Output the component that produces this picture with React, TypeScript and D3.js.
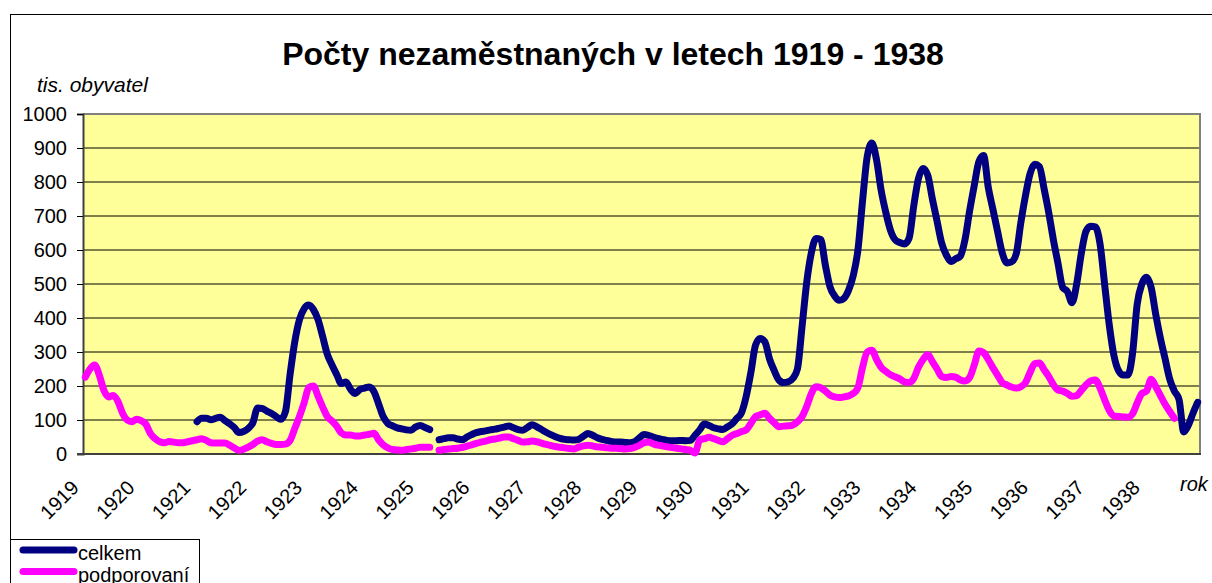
import React, { useEffect, useRef } from 'react';
import * as d3 from 'd3';

// tick labels on the category axis (one per year, monthly data)
const years = [1919, 1920, 1921, 1922, 1923, 1924, 1925, 1926, 1927, 1928, 1929, 1930, 1931, 1932, 1933, 1934, 1935, 1936, 1937, 1938];

const yTicks = [0, 100, 200, 300, 400, 500, 600, 700, 800, 900, 1000];

// tis. obyvatel, monthly from 1919-01 (null = no data)
const celkem: (number | null)[] = [
  null, null, null, null, null, null, null, null, null, null, null, null,
  null, null, null, null, null, null, null, null, null, null, null, null,
  95, 105, 105, 101, 105, 108, 98, 89, 78, 63, 66, 75,
  92, 135, 134, 126, 119, 110, 102, 125, 235, 330, 395, 427,
  438, 425, 395, 345, 293, 262, 234, 207, 212, 190, 178, 190,
  194, 197, 184, 148, 110, 90, 83, 77, 74, 71, 70, 80,
  84, 78, 72, null, 42, 45, 48, 48, 44, 42, 50, 57,
  63, 66, 68, 71, 73, 76, 79, 82, 77, 72, 70, 78,
  86, 80, 72, 64, 57, 51, 46, 43, 42, 41, 43, 52,
  60, 55, 48, 43, 40, 37, 35, 35, 34, 33, 36, 47,
  57, 55, 50, 46, 43, 40, 39, 39, 40, 39, 40, 55,
  71, 88, 84, 77, 74, 72, 80, 89, 105, 122, 170, 240,
  320, 340, 330, 280, 246, 218, 210, 212, 222, 250, 375, 505,
  592, 634, 631, 556, 492, 465, 452, 458, 482, 525, 600, 745,
  875, 915, 865, 775, 710, 658, 630, 622, 618, 635, 730, 810,
  840, 820, 750, 685, 620, 585, 566, 574, 582, 630, 715, 790,
  860, 878, 785, 720, 655, 592, 562, 565, 588, 680, 760, 825,
  852, 845, 780, 710, 630, 560, 490, 478, 445, 500, 590, 655,
  670, 668, 620, 500, 380, 290, 245, 232, 232, 295, 440, 500,
  520, 490, 410, 340, 280, 220, 185, 160, 65, 85, 120, 152,
];

const podporovani: (number | null)[] = [
  226, 250, 262, 232, 187, 168, 172, 155, 120, 100, 95, 102,
  98, 88, 60, 45, 36, 33, 37, 35, 33, 33, 36, 39,
  42, 45, 40, 33, 32, 32, 32, 26, 18, 11, 14, 20,
  28, 38, 42, 36, 31, 28, 28, 29, 40, 75, 110, 150,
  195, 200, 170, 138, 110, 97, 82, 62, 56, 56, 53, 53,
  56, 58, 61, 42, 27, 18, 13, 12, 11, 13, 15, 17,
  20, 20, 20, null, 11, 13, 15, 16, 17, 19, 23, 27,
  31, 35, 38, 42, 44, 47, 50, 50, 45, 40, 35, 36,
  38, 36, 32, 28, 25, 22, 20, 18, 16, 15, 20, 24,
  26, 24, 21, 20, 18, 17, 17, 16, 15, 16, 19, 25,
  33, 35, 30, 26, 24, 21, 19, 17, 15, 13, 11, 3,
  41, 45, 49, 45, 40, 36, 45, 55, 60, 66, 71, 90,
  110, 115, 120, 105, 92, 80, 82, 83, 85, 95, 110, 140,
  178, 198, 195, 185, 173, 168, 166, 168, 171, 178, 195, 255,
  300, 305, 278, 255, 243, 233, 227, 221, 212, 210, 222, 255,
  278, 293, 272, 250, 228, 225, 228, 226, 218, 215, 225, 262,
  303, 298, 278, 254, 232, 210, 203, 197, 194, 198, 210, 240,
  266, 268, 248, 228, 204, 188, 185, 178, 170, 172, 187, 203,
  215, 218, 195, 160, 128, 112, 110, 109, 108, 118, 150, 178,
  185, 220, 198, 172, 146, 125, 105, null, null, null, null, null,
];

const seriesNames = ['celkem', 'podporovaní'];
const seriesColors = ['#000080', '#FF00FF'];

export default function App() {
  const ref = useRef<SVGSVGElement>(null);

  useEffect(() => {
    const svg = d3.select(ref.current);
    svg.selectAll('*').remove();

    const font = 'Liberation Sans, Arial, sans-serif';
    const left = 83, right = 1200, top = 114, bottom = 454;
    const n = celkem.length;

    const x = d3.scaleLinear().domain([0, n]).range([left, right]);
    const y = d3.scaleLinear().domain([0, 1000]).range([bottom, top]);

    // outer chart border
    svg.append('rect')
      .attr('x', 10.5).attr('y', 14.5)
      .attr('width', 1230).attr('height', 620)
      .attr('fill', 'white').attr('stroke', 'black');

    // title
    svg.append('text')
      .attr('x', 613).attr('y', 65)
      .attr('text-anchor', 'middle')
      .attr('font-family', font).attr('font-weight', 'bold')
      .style('font-size', '32px')
      .text('Počty nezaměstnaných v letech 1919 - 1938');

    svg.append('text')
      .attr('x', 37).attr('y', 92)
      .attr('font-family', font).attr('font-style', 'italic')
      .style('font-size', '21px')
      .text('tis. obyvatel');

    // plot area
    svg.append('rect')
      .attr('x', left).attr('y', top)
      .attr('width', right - left).attr('height', bottom - top)
      .attr('fill', '#FFFF99');

    // grid
    svg.append('g')
      .selectAll('line')
      .data(yTicks.filter(d => d > 0 && d < 1000))
      .enter()
      .append('line')
      .attr('x1', left).attr('x2', right)
      .attr('y1', d => y(d)).attr('y2', d => y(d))
      .attr('stroke', 'black').attr('stroke-width', 1);

    // plot border top / right
    svg.append('path')
      .attr('d', `M${left},${top}H${right}V${bottom}`)
      .attr('fill', 'none').attr('stroke', '#808080').attr('stroke-width', 2);

    // y axis
    const yAxis = svg.append('g')
      .attr('transform', `translate(${left},0)`)
      .call(d3.axisLeft(y).tickValues(yTicks).tickSize(6).tickPadding(10).tickFormat(d3.format('d')));
    yAxis.select('.domain').attr('stroke', '#404040').attr('stroke-width', 2);
    yAxis.selectAll('.tick line').attr('stroke', 'black');
    yAxis.selectAll('text')
      .attr('font-family', font).style('font-size', '20px').attr('fill', 'black');

    // x axis line
    svg.append('line')
      .attr('x1', left - 6).attr('x2', right + 1)
      .attr('y1', bottom).attr('y2', bottom)
      .attr('stroke', '#404040').attr('stroke-width', 2);

    // x labels
    svg.append('g')
      .selectAll('text')
      .data(years)
      .enter()
      .append('text')
      .attr('text-anchor', 'end')
      .attr('transform', (d, i) => `translate(${x(i * 12) - 3},489) rotate(-45)`)
      .attr('font-family', font).style('font-size', '20px')
      .text(d => d);

    svg.append('text')
      .attr('x', 1180).attr('y', 491)
      .attr('font-family', font).attr('font-style', 'italic')
      .style('font-size', '20px')
      .text('rok');

    // lines
    const line = d3.line<number | null>()
      .defined(d => d != null)
      .x((d, i) => x(i + 0.5))
      .y(d => y(d as number))
      .curve(d3.curveMonotoneX);

    const datasets = [celkem, podporovani];
    svg.append('g')
      .selectAll('path')
      .data(datasets)
      .enter()
      .append('path')
      .attr('d', d => line(d))
      .attr('fill', 'none')
      .attr('stroke', (d, i) => seriesColors[i])
      .attr('stroke-width', 7)
      .attr('stroke-linejoin', 'round')
      .attr('stroke-linecap', 'round');

    // legend
    const legend = svg.append('g');
    legend.append('rect')
      .attr('x', 10.5).attr('y', 539.5)
      .attr('width', 189).attr('height', 80)
      .attr('fill', 'white').attr('stroke', 'black');
    seriesNames.forEach((name, i) => {
      const ly = 550 + i * 21.5;
      legend.append('line')
        .attr('x1', 23).attr('x2', 74)
        .attr('y1', ly).attr('y2', ly)
        .attr('stroke', seriesColors[i]).attr('stroke-width', 7)
        .attr('stroke-linecap', 'round');
      legend.append('text')
        .attr('x', 78).attr('y', ly + 10)
        .attr('font-family', font).style('font-size', '20px')
        .text(name);
    });
  }, []);

  return (
    <svg ref={ref} width={1212} height={583}
      style={{ position: 'absolute', left: 0, top: 0, display: 'block' }} />
  );
}
